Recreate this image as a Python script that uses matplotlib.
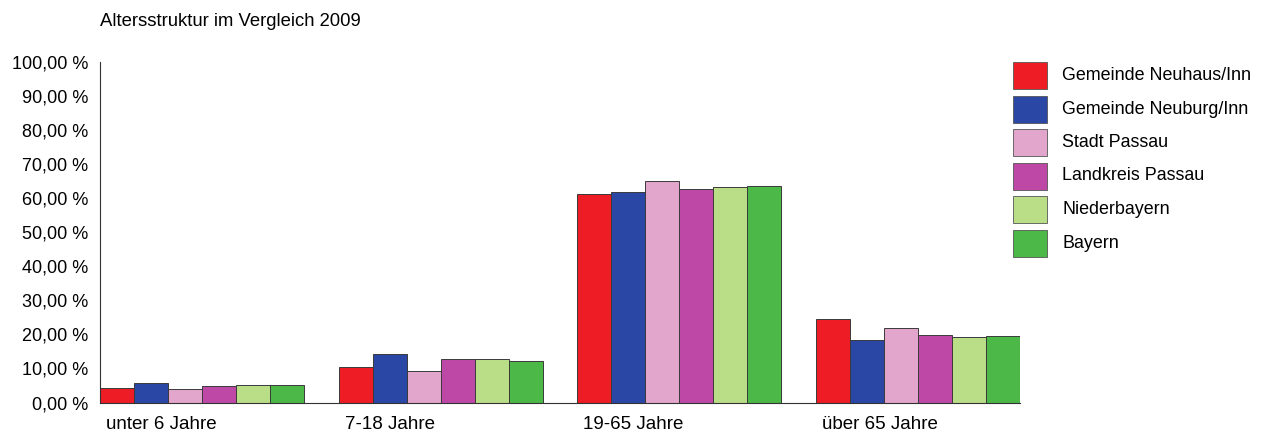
import matplotlib
matplotlib.use("Agg")
import matplotlib.pyplot as plt
import numpy as np
from matplotlib.patches import Rectangle

categories = ["unter 6 Jahre", "7-18 Jahre", "19-65 Jahre", "über 65 Jahre"]
series_names = ["Gemeinde Neuhaus/Inn", "Gemeinde Neuburg/Inn", "Stadt Passau",
                "Landkreis Passau", "Niederbayern", "Bayern"]
neuhaus = [4.2, 10.4, 61.2, 24.4]
neuburg = [5.8, 14.2, 61.7, 18.4]
stadt_passau = [4.0, 9.3, 65.0, 21.8]
landkreis_passau = [4.8, 12.8, 62.6, 19.8]
niederbayern = [5.1, 12.8, 63.2, 19.1]
bayern = [5.1, 12.2, 63.5, 19.5]
yticks = [0, 10, 20, 30, 40, 50, 60, 70, 80, 90, 100]
ytick_labels = ["0,00 %", "10,00 %", "20,00 %", "30,00 %", "40,00 %", "50,00 %",
                "60,00 %", "70,00 %", "80,00 %", "90,00 %", "100,00 %"]
title = "Altersstruktur im Vergleich 2009"
colors = ["#ee1c24", "#2a47a6", "#e2a6cc", "#be48a6", "#bade88", "#4cb848"]

series = [neuhaus, neuburg, stadt_passau, landkreis_passau, niederbayern, bayern]

plt.rcParams['font.family'] = ['Liberation Sans', 'DejaVu Sans']

W, H = 1261, 432
fig = plt.figure(figsize=(W / 100, H / 100), dpi=100)
ax = fig.add_axes([100 / W, (H - 402.5) / H, (1020 - 100) / W, (402.5 - 62) / H])

x = np.arange(len(categories)) * 7.0
for i, (vals, c, name) in enumerate(zip(series, colors, series_names)):
    ax.bar(x + i, vals, width=1.0, align='edge', color=c, edgecolor='#3a3a3a',
           linewidth=0.7, label=name)

ax.set_xlim(0, 27)
ax.set_ylim(0, 100)
ax.set_yticks(yticks)
ax.set_yticklabels(ytick_labels, fontsize=13)
ax.set_xticks(x + 0.18)
ax.set_xticklabels(categories, fontsize=13.5, ha='left')
ax.tick_params(axis='y', length=0, pad=8.5)
ax.tick_params(axis='x', length=0, pad=9.5)
for s in ['top', 'right']:
    ax.spines[s].set_visible(False)
for s in ['left', 'bottom']:
    ax.spines[s].set_color('#333333')
    ax.spines[s].set_linewidth(0.8)

fig.text(100 / W, (H - 22) / H, title, fontsize=13.3, ha='left', va='center')

# legend drawn in figure pixel layout
for k, (c, name) in enumerate(zip(colors, series_names)):
    top = 62 + k * 33.5
    fig.patches.append(Rectangle((1013 / W, (H - top - 27) / H), 34 / W, 27 / H,
                                 transform=fig.transFigure, facecolor=c,
                                 edgecolor='#555555', linewidth=0.6))
    fig.text(1062 / W, (H - top - 13.5) / H, name, fontsize=12.9,
             ha='left', va='center')

fig.savefig("out.png", dpi=100)
